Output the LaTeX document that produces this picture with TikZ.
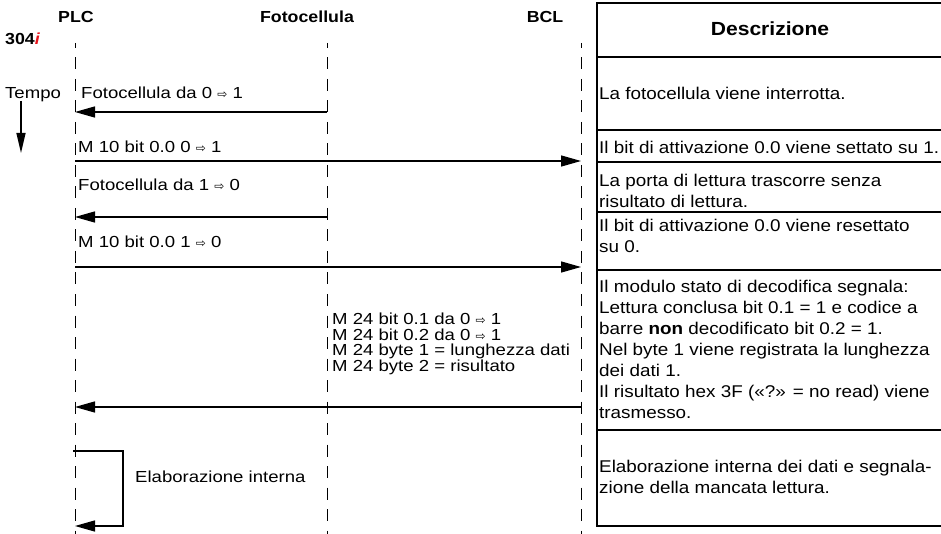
\documentclass[tikz,border=0pt]{standalone}
\usepackage{fontspec}
\setmainfont{Liberation Sans}[FakeStretch=1.11]
\newfontfamily\widefont{Liberation Sans}[FakeStretch=1.16]
\newfontfamily\arrowglyphfont{DejaVu Sans}
\usetikzlibrary{arrows.meta}
\newcommand{\wra}{{\arrowglyphfont\fontsize{12}{12}\selectfont ⇨}}
\definecolor{markred}{HTML}{E8141B}

\tikzset{
  lifeline/.style={line width=1pt, dash pattern=on 12pt off 9.5pt, dash phase=7pt},
  msg/.style={line width=1.3pt, -{Triangle[length=20pt,width=11pt]}},
  lbl/.style={anchor=mid west, inner sep=0, font=\widefont\fontsize{16}{15.6}\selectfont},
  lblblock/.style={anchor=north west, inner sep=0, align=left, font=\widefont\fontsize{16}{15.6}\selectfont},
  desc/.style={anchor=north west, inner sep=0, align=left, font=\fontsize{17}{21}\selectfont},
  hdr/.style={inner sep=0, font=\bfseries\fontsize{16}{16}\selectfont},
  rule/.style={line width=1.3pt}
}

\begin{document}
\begin{tikzpicture}[x=1pt, y=-1pt]
\useasboundingbox (0,0) rectangle (941,534);

% column headers
\node[hdr] (hplc) at (76,17) {PLC};
\node[hdr] (hfoto) at (307,17) {Fotocellula};
\node[hdr] (hbcl) at (545,17) {BCL};
\node[hdr, anchor=mid west] (ref) at (5,42) {304\textcolor{markred}{\itshape i}};

% lifelines
\coordinate (plcTop) at (75,43);   \coordinate (plcBot) at (75,534);
\coordinate (fotoTop) at (327,43); \coordinate (fotoBot) at (327,534);
\coordinate (bclTop) at (581,43);  \coordinate (bclBot) at (581,534);
\draw[lifeline] (plcTop) -- (plcBot);
\draw[lifeline] (fotoTop) -- (fotoBot);
\draw[lifeline] (bclTop) -- (bclBot);

% time axis
\node[lbl] (tempo) at (5,96) {Tempo};
\coordinate (tStart) at (21,101); \coordinate (tEnd) at (21,153);
\draw[line width=1.3pt, -{Triangle[length=20pt,width=9pt]}] (tStart) -- (tEnd);

% messages
\node[lbl] (t1) at (81,96) {Fotocellula da 0 \wra{} 1};
\coordinate (m1a) at (327,112); \coordinate (m1b) at (75,112);
\draw[msg] (m1a) -- (m1b);

\node[lbl] (t2) at (78,150) {M 10 bit 0.0 0 \wra{} 1};
\coordinate (m2a) at (75,161); \coordinate (m2b) at (581,161);
\draw[msg] (m2a) -- (m2b);

\node[lbl] (t3) at (78,188) {Fotocellula da 1 \wra{} 0};
\coordinate (m3a) at (327,217); \coordinate (m3b) at (75,217);
\draw[msg] (m3a) -- (m3b);

\node[lbl] (t4) at (78,245) {M 10 bit 0.0 1 \wra{} 0};
\coordinate (m4a) at (75,267); \coordinate (m4b) at (581,267);
\draw[msg] (m4a) -- (m4b);

\node[lblblock] (t5) at (332,313) {M 24 bit 0.1 da 0 \wra{} 1\\M 24 bit 0.2 da 0 \wra{} 1\\M 24 byte 1 = lunghezza dati\\M 24 byte 2 = risultato};
\coordinate (m5a) at (581,407); \coordinate (m5b) at (75,407);
\draw[msg] (m5a) -- (m5b);

% internal processing loop
\coordinate (l1) at (73,451); \coordinate (l2) at (123,451);
\coordinate (l3) at (123,526); \coordinate (l4) at (75,526);
\draw[msg] (l1) -- (l2) -- (l3) -- (l4);
\node[lbl] (t6) at (135,480) {Elaborazione interna};

% description table
\draw[rule] (941,3) -- (597,3) -- (597,526);
\foreach \yy in {57,130,162,212,270,430}
  \draw[rule] (597,\yy) -- (941,\yy);
\draw[line width=2.5pt] (596,526) -- (941,526);

\node[inner sep=0, font=\bfseries\fontsize{19}{19}\selectfont] (hdesc) at (770,29) {Descrizione};
\node[desc] (d1) at (599,86.7) {La fotocellula viene interrotta.};
\node[desc] (d2) at (599,140.7) {Il bit di attivazione 0.0 viene settato su 1.};
\node[desc] (d3) at (599,173.7) {La porta di lettura trascorre senza\\risultato di lettura.};
\node[desc] (d4) at (599,219) {Il bit di attivazione 0.0 viene resettato\\su 0.};
\node[desc] (d5) at (599,279.7) {Il modulo stato di decodifica segnala:\\Lettura conclusa bit 0.1 = 1 e codice a\\barre \textbf{non} decodificato bit 0.2 = 1.\\Nel byte 1 viene registrata la lunghezza\\dei dati 1.\\Il risultato hex 3F («?» = no read) viene\\trasmesso.};
\node[desc] (d6) at (599,459.7) {Elaborazione interna dei dati e segnala-\\zione della mancata lettura.};
\end{tikzpicture}
\end{document}
